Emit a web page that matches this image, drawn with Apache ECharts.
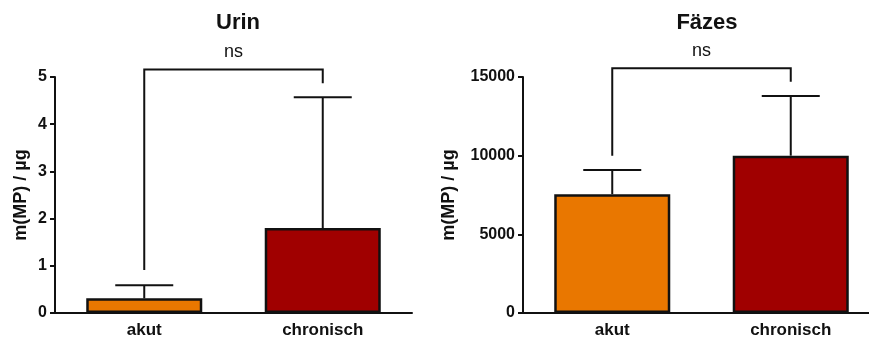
<!DOCTYPE html>
<html>
<head>
<meta charset="utf-8">
<script src="https://cdn.jsdelivr.net/npm/echarts@6/dist/echarts.min.js"></script>
<style>
html,body{margin:0;padding:0;background:#fff;}
#main{width:869px;height:342px;}
</style>
</head>
<body>
<div id="main"></div>
<script>
// Daten
var categories = ['akut', 'chronisch'];
var urinMean = [0.31, 1.8];
var urinErr = [0.59, 4.57];
var faezesMean = [7550, 10000];
var faezesErr = [9090, 13790];
// Klammer: [oben, unten links, unten rechts]
var urinBracket = [5.16, 0.91, 4.87];
var faezesBracket = [15550, 10000, 14700];
var barColors = ['#e97700', '#a00000'];

var font = 'Liberation Sans, Arial, sans-serif';

function errorSeries(idx, err) {
	return {
		type: 'custom',
		xAxisIndex: idx,
		yAxisIndex: idx,
		clip: false,
		z: 1,
		data: err.map(function (v, i) { return [i, v]; }),
		renderItem: function (params, api) {
			var i = api.value(0);
			var mean = idx == 0 ? urinMean[i] : faezesMean[i];
			var top = api.coord([i, api.value(1)]);
			var base = api.coord([i, mean]);
			var hw = 29;
			return {
				type: 'group',
				children: [{
					type: 'line',
					shape: { x1: top[0], y1: top[1], x2: base[0], y2: base[1] },
					style: { stroke: '#111', lineWidth: 2 }
				}, {
					type: 'line',
					shape: { x1: top[0] - hw, y1: top[1], x2: top[0] + hw, y2: top[1] },
					style: { stroke: '#111', lineWidth: 2 }
				}]
			};
		}
	};
}

function bracketSeries(idx, br) {
	return {
		type: 'custom',
		xAxisIndex: idx,
		yAxisIndex: idx,
		clip: false,
		z: 5,
		data: [[0, br[0], br[1], br[2]]],
		renderItem: function (params, api) {
			var a = api.coord([0, api.value(1)]);
			var b = api.coord([1, api.value(1)]);
			var la = api.coord([0, api.value(2)]);
			var rb = api.coord([1, api.value(3)]);
			return {
				type: 'group',
				children: [{
					type: 'polyline',
					shape: { points: [[la[0], la[1]], [a[0], a[1]], [b[0], b[1]], [rb[0], rb[1]]] },
					style: { stroke: '#111', lineWidth: 2, fill: null }
				}, {
					type: 'text',
					style: {
						text: 'ns', x: (a[0] + b[0]) / 2, y: a[1] - 8,
						align: 'center', verticalAlign: 'bottom',
						font: '18px ' + font, fill: '#111'
					}
				}]
			};
		}
	};
}

function yAxis(idx, max, interval) {
	return {
		type: 'value',
		gridIndex: idx,
		min: 0,
		max: max,
		interval: interval,
		name: 'm(MP) / µg',
		nameLocation: 'middle',
		nameGap: idx == 0 ? 25 : 65,
		nameTextStyle: { fontFamily: font, fontWeight: 'bold', fontSize: 18, color: '#111' },
		splitLine: { show: false },
		axisLine: { show: true, lineStyle: { color: '#111', width: 2 } },
		axisTick: { show: true, length: 5, lineStyle: { color: '#111', width: 2 } },
		axisLabel: {
			fontFamily: font, fontWeight: 'bold', fontSize: 16, color: '#111', margin: 8,
			formatter: function (v) { return String(v); }
		}
	};
}

function xAxis(idx) {
	return {
		type: 'category',
		gridIndex: idx,
		data: categories,
		axisLine: { lineStyle: { color: '#111', width: 2 } },
		axisTick: { alignWithLabel: true, length: 5, lineStyle: { color: '#111', width: 2 } },
		axisLabel: { fontFamily: font, fontWeight: 'bold', fontSize: 17, color: '#111', margin: 9 }
	};
}

function barSeries(idx, vals) {
	return {
		type: 'bar',
		xAxisIndex: idx,
		yAxisIndex: idx,
		barWidth: '65%',
		z: 2,
		data: vals.map(function (v, i) {
			return { value: v, itemStyle: { color: barColors[i] } };
		}),
		itemStyle: { borderColor: '#111', borderWidth: 2.5 }
	};
}

var myChart = echarts.init(document.getElementById('main'));
var option = {
	backgroundColor: '#fff',
	animation: false,
	title: [{
		text: 'Urin', left: 233, top: 7, textAlign: 'center',
		textStyle: { fontFamily: font, fontWeight: 'bold', fontSize: 22, color: '#111' }
	}, {
		text: 'Fäzes', left: 702, top: 7, textAlign: 'center',
		textStyle: { fontFamily: font, fontWeight: 'bold', fontSize: 22, color: '#111' }
	}],
	grid: [
		{ left: 55, width: 357, top: 77, bottom: 29, outerBoundsMode: 'none' },
		{ left: 523, width: 357, top: 77, bottom: 29, outerBoundsMode: 'none' }
	],
	xAxis: [xAxis(0), xAxis(1)],
	yAxis: [yAxis(0, 5, 1), yAxis(1, 15000, 5000)],
	series: [
		errorSeries(0, urinErr),
		barSeries(0, urinMean),
		bracketSeries(0, urinBracket),
		errorSeries(1, faezesErr),
		barSeries(1, faezesMean),
		bracketSeries(1, faezesBracket)
	]
};
myChart.setOption(option);
</script>
</body>
</html>
